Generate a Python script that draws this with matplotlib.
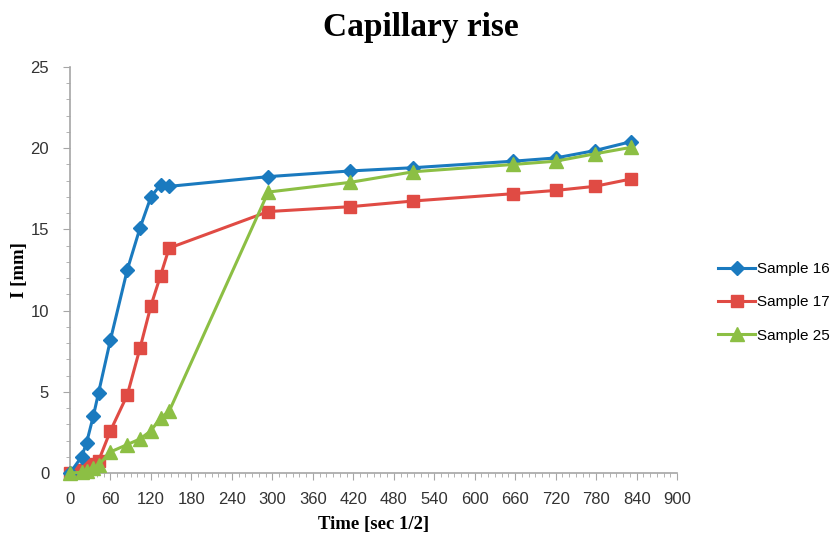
import numpy as np
import matplotlib
matplotlib.use('Agg')
import matplotlib.pyplot as plt
from matplotlib.ticker import MultipleLocator

# time in sqrt(seconds): 0, 5 min, 10 min, 20 min, 30 min, 1h ... 8 days
time_sqrt = [0, 17.3, 24.5, 34.6, 42.4, 60, 84.9, 103.9, 120, 134.2, 147,
             293.9, 415.7, 509.1, 657.3, 720, 777.7, 831.4]

sample16 = [0, 1.0, 1.85, 3.5, 4.95, 8.2, 12.5, 15.1, 17.0, 17.75, 17.65,
            18.25, 18.6, 18.8, 19.2, 19.4, 19.85, 20.4]
sample17 = [0, 0.2, 0.35, 0.55, 0.75, 2.6, 4.8, 7.7, 10.3, 12.15, 13.85,
            16.1, 16.4, 16.75, 17.2, 17.4, 17.65, 18.1]
sample25 = [0, 0.05, 0.15, 0.3, 0.5, 1.3, 1.75, 2.1, 2.6, 3.4, 3.8,
            17.3, 17.9, 18.55, 19.0, 19.2, 19.65, 20.05]

labels = ['Sample 16', 'Sample 17', 'Sample 25']

fig = plt.figure(figsize=(8.38, 5.36), dpi=100)
ax = fig.add_axes([0.0835, 0.1175, 0.7245, 0.7575])

ax.plot(time_sqrt, sample16, color='#1a7abf', marker='D', markersize=7,
        linewidth=2.2, label=labels[0], zorder=3, clip_on=False)
ax.plot(time_sqrt, sample17, color='#e04b44', marker='s', markersize=9,
        linewidth=2.2, label=labels[1], zorder=2, clip_on=False)
ax.plot(time_sqrt, sample25, color='#8cbf44', marker='^', markersize=10,
        linewidth=2.2, label=labels[2], zorder=4, clip_on=False)

ax.set_xlim(0, 900)
ax.set_ylim(0, 25)
ax.xaxis.set_major_locator(MultipleLocator(60))
ax.xaxis.set_minor_locator(MultipleLocator(10))
ax.yaxis.set_major_locator(MultipleLocator(5))
ax.yaxis.set_minor_locator(MultipleLocator(1))

for s in ['top', 'right']:
    ax.spines[s].set_visible(False)
for s in ['left', 'bottom']:
    ax.spines[s].set_color('#a6a6a6')
    ax.spines[s].set_linewidth(1.2)

ax.tick_params(which='both', direction='out', color='#a6a6a6', labelcolor='#333333',
               labelsize=12)
ax.tick_params(which='major', length=5)
ax.tick_params(which='minor', length=3)
ax.tick_params(axis='x', pad=9)
ax.tick_params(axis='y', pad=10)
for lab in ax.get_xticklabels() + ax.get_yticklabels():
    lab.set_family('Liberation Sans')

fig.text(0.502, 0.948, 'Capillary rise', ha='center', va='center',
         fontsize=24, fontweight='bold', family='Liberation Serif')
ax.set_xlabel('Time [sec 1/2]', fontsize=13.5, fontweight='bold', family='Liberation Serif', labelpad=6)
ax.set_ylabel('I [mm]', fontsize=13.5, fontweight='bold', family='Liberation Serif', labelpad=2)

ax.legend(loc='center left', bbox_to_anchor=(1.068, 0.42), frameon=False,
          prop={'family': 'Liberation Sans', 'size': 11}, handlelength=2.4,
          labelspacing=1.25, handletextpad=0.1, borderaxespad=0, borderpad=0)

fig.savefig('out.png', dpi=100)
